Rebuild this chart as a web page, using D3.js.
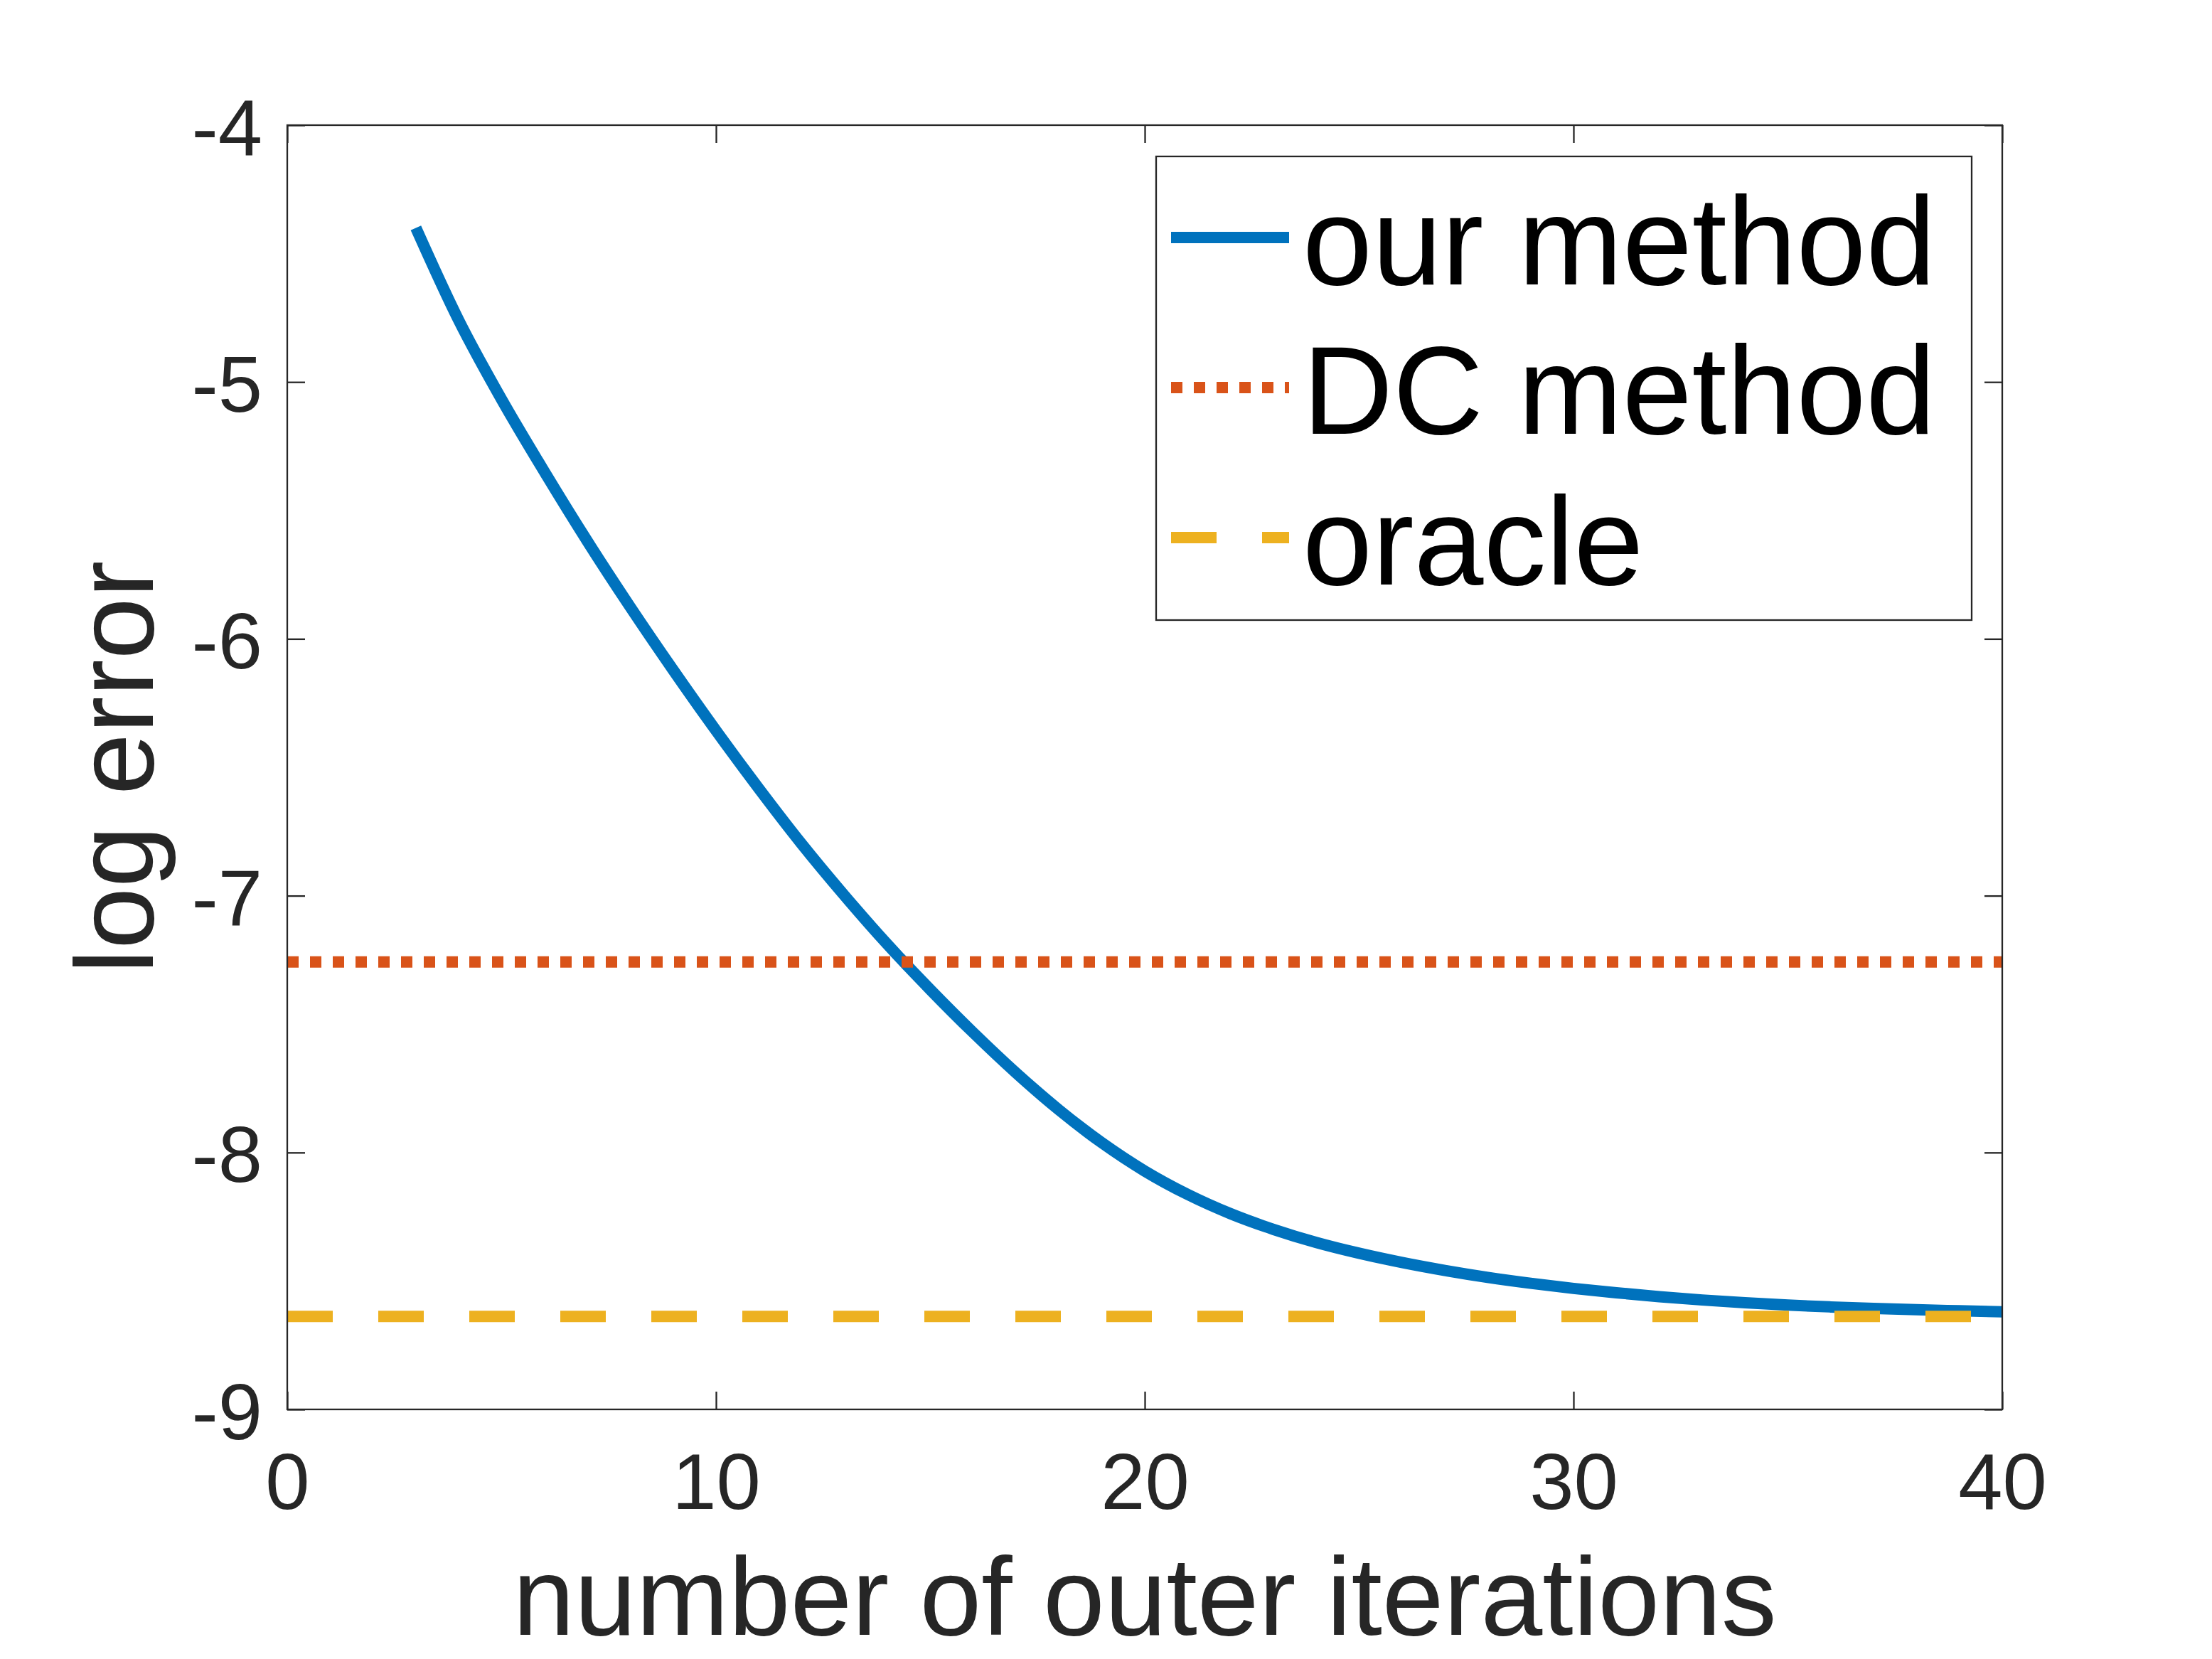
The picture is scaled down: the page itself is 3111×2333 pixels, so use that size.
<!DOCTYPE html>
<html>
<head>
<meta charset="utf-8">
<script src="https://cdn.jsdelivr.net/npm/d3@7"></script>
<style>
  html, body { margin: 0; padding: 0; background: #ffffff; }
  svg { display: block; }
</style>
</head>
<body>
<svg id="chart" width="3111" height="2333"></svg>
<script>
// ---------------- data ----------------
const iterations = [3, 4, 5, 6, 7, 8, 9, 10, 11, 12, 13, 14, 15, 16, 17, 18, 19, 20, 21,
  22, 23, 24, 25, 26, 27, 28, 29, 30, 31, 32, 33, 34, 35, 36, 37, 38, 39, 40];
const ourMethod = [-4.400, -4.760, -5.068, -5.350, -5.620, -5.876, -6.121, -6.357, -6.583,
  -6.799, -7.000, -7.190, -7.366, -7.533, -7.690, -7.834, -7.962, -8.072, -8.163, -8.238,
  -8.299, -8.350, -8.392, -8.428, -8.459, -8.486, -8.509, -8.529, -8.546, -8.561, -8.574,
  -8.585, -8.594, -8.601, -8.607, -8.612, -8.616, -8.620];
const dcMethodX = [0, 40];
const dcMethod = [-7.258, -7.258];
const oracleX = [0, 40];
const oracle = [-8.638, -8.638];
const xTicks = [0, 10, 20, 30, 40];
const yTicks = [-9, -8, -7, -6, -5, -4];
const seriesNames = ["our method", "DC method", "oracle"];
const xLabel = "number of outer iterations";
const yLabel = "log error";

// ---------------- layout ----------------
const W = 3111, H = 2333;
const plot = { left: 404, right: 2816, top: 176, bottom: 1982 };
const axisColor = "#262626";
const fontFamily = "'Liberation Sans', Arial, Helvetica, sans-serif";
const colors = { our: "#0072BD", dc: "#D95319", oracle: "#EDB120" };
const lineW = 16;
const tickLen = 25;

const svg = d3.select("#chart");
svg.append("rect").attr("width", W).attr("height", H).attr("fill", "#fff");

const x = d3.scaleLinear().domain([0, 40]).range([plot.left, plot.right]);
const y = d3.scaleLinear().domain([-9, -4]).range([plot.bottom, plot.top]);

// clip
svg.append("defs").append("clipPath").attr("id", "plotClip")
  .append("rect")
  .attr("x", plot.left).attr("y", plot.top)
  .attr("width", plot.right - plot.left).attr("height", plot.bottom - plot.top);

// ---------------- axes (ticks inward on all four sides) ----------------
function styleAxis(g) {
  g.select(".domain").remove();
  g.selectAll(".tick line").attr("stroke", axisColor).attr("stroke-width", 2.3);
  g.selectAll("text").attr("fill", axisColor).attr("font-family", fontFamily).attr("font-size", 112);
}

const gx = svg.append("g").attr("transform", `translate(0,${plot.bottom})`)
  .call(d3.axisBottom(x).tickValues(xTicks).tickFormat(d3.format("d")).tickSizeInner(-tickLen).tickSizeOuter(0));
styleAxis(gx);
gx.selectAll("text").attr("y", 140).attr("dy", null).attr("text-anchor", "middle");

const gxTop = svg.append("g").attr("transform", `translate(0,${plot.top})`)
  .call(d3.axisTop(x).tickValues(xTicks).tickFormat("").tickSizeInner(-tickLen).tickSizeOuter(0));
styleAxis(gxTop);

const gy = svg.append("g").attr("transform", `translate(${plot.left},0)`)
  .call(d3.axisLeft(y).tickValues(yTicks).tickFormat(d => String(d)).tickSizeInner(-tickLen).tickSizeOuter(0));
styleAxis(gy);
gy.selectAll("text").attr("x", -35).attr("dy", null).attr("y", 41).attr("text-anchor", "end");

const gyRight = svg.append("g").attr("transform", `translate(${plot.right},0)`)
  .call(d3.axisRight(y).tickValues(yTicks).tickFormat("").tickSizeInner(-tickLen).tickSizeOuter(0));
styleAxis(gyRight);

// ---------------- series ----------------
const lines = svg.append("g").attr("clip-path", "url(#plotClip)");

lines.append("path")
  .datum(iterations.map((v, i) => [v, ourMethod[i]]))
  .attr("d", d3.line().x(d => x(d[0])).y(d => y(d[1])).curve(d3.curveMonotoneX))
  .attr("fill", "none").attr("stroke", colors.our).attr("stroke-width", lineW)
  .attr("stroke-linejoin", "round").attr("stroke-linecap", "butt");

lines.append("path")
  .datum(dcMethodX.map((v, i) => [v, dcMethod[i]]))
  .attr("d", d3.line().x(d => x(d[0])).y(d => y(d[1])))
  .attr("fill", "none").attr("stroke", colors.dc).attr("stroke-width", lineW)
  .attr("stroke-dasharray", "16,16").attr("stroke-linecap", "butt");

lines.append("path")
  .datum(oracleX.map((v, i) => [v, oracle[i]]))
  .attr("d", d3.line().x(d => x(d[0])).y(d => y(d[1])))
  .attr("fill", "none").attr("stroke", colors.oracle).attr("stroke-width", lineW)
  .attr("stroke-dasharray", "64,64").attr("stroke-linecap", "butt");

// box
svg.append("rect")
  .attr("x", plot.left).attr("y", plot.top)
  .attr("width", plot.right - plot.left).attr("height", plot.bottom - plot.top)
  .attr("fill", "none").attr("stroke", axisColor).attr("stroke-width", 2.3);

// ---------------- axis labels ----------------
svg.append("text")
  .attr("x", (plot.left + plot.right) / 2).attr("y", 2299)
  .attr("text-anchor", "middle").attr("font-family", fontFamily).attr("font-size", 156)
  .attr("fill", axisColor).text(xLabel);

svg.append("text")
  .attr("transform", `translate(215,${(plot.top + plot.bottom) / 2}) rotate(-90)`)
  .attr("text-anchor", "middle").attr("font-family", fontFamily).attr("font-size", 156)
  .attr("fill", axisColor).text(yLabel);

// ---------------- legend ----------------
const legend = { x: 1626, y: 220, w: 1147, h: 652 };
const lg = svg.append("g");
lg.append("rect")
  .attr("x", legend.x).attr("y", legend.y).attr("width", legend.w).attr("height", legend.h)
  .attr("fill", "#fff").attr("stroke", axisColor).attr("stroke-width", 2.3);

const legendItems = [
  { name: seriesNames[0], color: colors.our, dash: null, lineY: 334, textY: 400 },
  { name: seriesNames[1], color: colors.dc, dash: "16,16", lineY: 545, textY: 610 },
  { name: seriesNames[2], color: colors.oracle, dash: "64,64", lineY: 756, textY: 822 }
];
const items = lg.selectAll("g.item").data(legendItems).enter().append("g").attr("class", "item");
items.append("line")
  .attr("x1", 1647).attr("x2", 1813)
  .attr("y1", d => d.lineY).attr("y2", d => d.lineY)
  .attr("stroke", d => d.color).attr("stroke-width", lineW)
  .attr("stroke-dasharray", d => d.dash).attr("stroke-linecap", "butt");
items.append("text")
  .attr("x", 1832).attr("y", d => d.textY)
  .attr("font-family", fontFamily).attr("font-size", 176).attr("fill", "#000")
  .text(d => d.name);
</script>
</body>
</html>
